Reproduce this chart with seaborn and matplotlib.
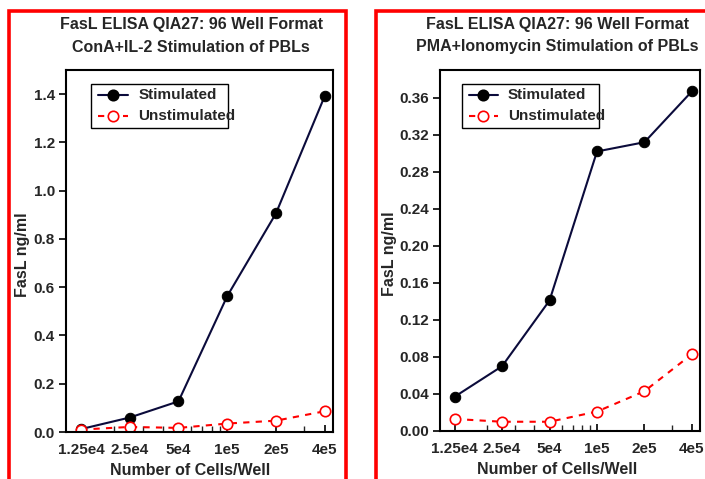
import numpy as np
import pandas as pd
import matplotlib
matplotlib.use("Agg")
import matplotlib.pyplot as plt
import matplotlib.ticker as mticker
from matplotlib.patches import Rectangle
from matplotlib.lines import Line2D
import seaborn as sns

sns.set_style("white")
plt.rcParams['font.family'] = ['Liberation Sans', 'DejaVu Sans']
plt.rcParams['font.weight'] = 'bold'

# data
cells = [1.25e4, 2.5e4, 5e4, 1e5, 2e5, 4e5]
cell_labels = ['1.25e4', '2.5e4', '5e4', '1e5', '2e5', '4e5']

cona_stim = [0.012, 0.060, 0.127, 0.563, 0.906, 1.392]
cona_unstim = [0.010, 0.021, 0.017, 0.035, 0.047, 0.086]

pma_stim = [0.037, 0.070, 0.141, 0.302, 0.312, 0.367]
pma_unstim = [0.013, 0.010, 0.010, 0.021, 0.043, 0.083]

titles = [("FasL ELISA QIA27: 96 Well Format", "ConA+IL-2 Stimulation of PBLs"),
          ("FasL ELISA QIA27: 96 Well Format", "PMA+Ionomycin Stimulation of PBLs")]

W, H = 705, 479
fig = plt.figure(figsize=(W / 100, H / 100), dpi=100)

def px_axes(x0, y0, x1, y1):
    return fig.add_axes([x0 / W, 1 - y1 / H, (x1 - x0) / W, (y1 - y0) / H])

ax1 = px_axes(66, 70, 333, 432)
ax2 = px_axes(440, 70, 700, 431)

panels = [
    (ax1, cona_stim, cona_unstim, 1.5, np.arange(0, 1.41, 0.2), '%.1f', 191, -0.133, 0.464),
    (ax2, pma_stim, pma_unstim, 0.39, np.arange(0, 0.361, 0.04), '%.2f', 557, -0.167, 0.45),
]

stim_color = '#0b0b3b'

for i, (ax, stim, unstim, ytop, yt, fmt, tx, ylx, xlx) in enumerate(panels):
    df = pd.DataFrame({'cells': cells, 'stim': stim, 'unstim': unstim})
    sns.lineplot(data=df, x='cells', y='stim', ax=ax, color=stim_color, lw=1.5,
                 marker='o', markersize=7.5, markerfacecolor='black',
                 markeredgecolor='black', legend=False)
    sns.lineplot(data=df, x='cells', y='unstim', ax=ax, color='red', lw=1.5,
                 linestyle=(0, (3, 3)), marker='o', markersize=7.5,
                 markerfacecolor='white', markeredgecolor='red',
                 markeredgewidth=1.2, legend=False)

    ax.set_xscale('log')
    ax.set_xlim(1.01e4, 4.5e5)
    ax.set_ylim(0, ytop)
    ax.xaxis.set_major_locator(mticker.FixedLocator(cells))
    ax.xaxis.set_major_formatter(mticker.FixedFormatter(cell_labels))
    ax.xaxis.set_minor_locator(mticker.LogLocator(base=10, subs=np.arange(2, 10)))
    ax.xaxis.set_minor_formatter(mticker.NullFormatter())
    ax.set_yticks(yt)
    ax.yaxis.set_major_formatter(mticker.FormatStrFormatter(fmt))

    ax.tick_params(axis='both', which='major', labelsize=11, width=1.2,
                   length=5, color='black')
    ax.tick_params(axis='x', which='both', direction='in', bottom=True, pad=8)
    ax.tick_params(axis='x', which='minor', length=4, width=1.0)
    ax.tick_params(axis='y', direction='out', left=True, pad=3)
    for lab in ax.get_xticklabels() + ax.get_yticklabels():
        lab.set_fontweight('bold')

    for sp in ax.spines.values():
        sp.set_color('black')
        sp.set_linewidth(1.5)

    ax.set_xlabel('Number of Cells/Well', fontsize=11.5, fontweight='bold')
    ax.set_ylabel('FasL ng/ml', fontsize=11.5, fontweight='bold')
    ax.xaxis.set_label_coords(xlx, -0.087)
    ax.yaxis.set_label_coords(ylx, 0.49)

    # legend drawn by hand so the label can run over the frame as in the original
    x0 = (91 - 66) / 267 if i == 0 else (462 - 440) / 260
    x1 = (228 - 66) / 267 if i == 0 else (599 - 440) / 260
    ax.add_patch(Rectangle((x0, 0.840), x1 - x0, 0.121, transform=ax.transAxes,
                           fill=False, edgecolor='black', lw=1.0, zorder=5))
    hx = np.array([x0 + 0.026, x0 + 0.138])
    for yy, col, ls, mfc, lab in [(0.930, stim_color, '-', 'black', 'Stimulated'),
                                  (0.873, 'red', (0, (3, 3)), 'white', 'Unstimulated')]:
        ax.add_line(Line2D(hx, [yy, yy], transform=ax.transAxes, color=col,
                           lw=1.5, ls=ls, zorder=6))
        ax.add_line(Line2D([hx.mean()], [yy], transform=ax.transAxes,
                           marker='o', markersize=7.5, markerfacecolor=mfc,
                           markeredgecolor='black' if mfc == 'black' else 'red',
                           markeredgewidth=1.2, ls='none', zorder=7))
        ax.text(x0 + 0.177, yy, lab, transform=ax.transAxes, fontsize=11,
                fontweight='bold', va='center', ha='left', zorder=7)

    fig.text(tx / W, 1 - 25 / H, titles[i][0], ha='center', va='center',
             fontsize=11.5, fontweight='bold')
    fig.text(tx / W, 1 - 47 / H, titles[i][1], ha='center', va='center',
             fontsize=11.5, fontweight='bold')

# red panel frames
fig.add_artist(Rectangle((9 / W, -0.1), (346 - 9) / W, 1.1 - 11 / H,
                         transform=fig.transFigure, fill=False,
                         edgecolor='red', linewidth=2.6))
fig.add_artist(Rectangle((376 / W, -0.1), 0.6, 1.1 - 11 / H,
                         transform=fig.transFigure, fill=False,
                         edgecolor='red', linewidth=2.6))

plt.savefig('out.png', dpi=100)
